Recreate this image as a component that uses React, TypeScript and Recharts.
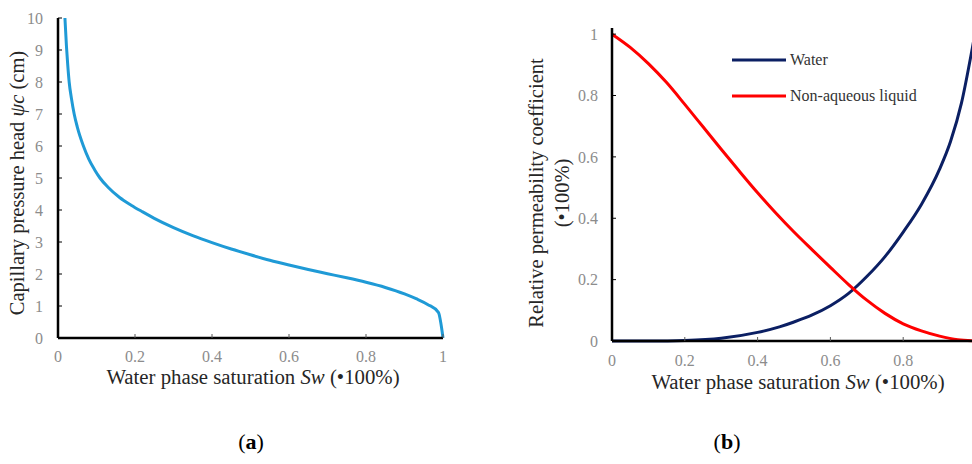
import React from 'react';
import { LineChart, Line, XAxis, YAxis, Legend } from 'recharts';

// ---------- data ----------
const swTicks = [0, 0.2, 0.4, 0.6, 0.8, 1];
const swTicksRight = [0, 0.2, 0.4, 0.6, 0.8];
const headTicks = [0, 1, 2, 3, 4, 5, 6, 7, 8, 9, 10];
const krTicks = [0, 0.2, 0.4, 0.6, 0.8, 1];

// (a) capillary pressure head vs water saturation
const capSw = [0.018, 0.022, 0.025, 0.029, 0.035, 0.042, 0.05, 0.066, 0.08, 0.095, 0.109, 0.13, 0.16, 0.19, 0.22, 0.25, 0.3, 0.35, 0.4, 0.45, 0.5, 0.55, 0.6, 0.65, 0.7, 0.75, 0.8, 0.85, 0.9, 0.93, 0.96, 0.988, 1.0];
const capHead = [10, 9.11, 8.58, 8.0, 7.48, 7.0, 6.6, 6.0, 5.59, 5.26, 5.0, 4.71, 4.39, 4.15, 3.94, 3.74, 3.45, 3.2, 2.98, 2.78, 2.6, 2.43, 2.28, 2.14, 2.01, 1.88, 1.74, 1.58, 1.38, 1.23, 1.05, 0.8, 0];

// (b) relative permeability
const waterSw = [0, 0.1, 0.2, 0.3, 0.4, 0.46, 0.5, 0.55, 0.6, 0.65, 0.7, 0.75, 0.8, 0.85, 0.9, 0.93, 0.96, 0.99, 1.0];
const waterKr = [0, 0.0002, 0.002, 0.009, 0.028, 0.046, 0.062, 0.085, 0.115, 0.155, 0.21, 0.275, 0.355, 0.445, 0.56, 0.65, 0.775, 0.955, 1.02];
const naplSw = [0, 0.05, 0.1, 0.15, 0.2, 0.25, 0.3, 0.35, 0.4, 0.45, 0.5, 0.55, 0.6, 0.65, 0.7, 0.75, 0.8, 0.85, 0.9, 0.95, 1.0];
const naplKr = [1, 0.957, 0.904, 0.842, 0.771, 0.698, 0.625, 0.553, 0.483, 0.417, 0.355, 0.297, 0.24, 0.184, 0.133, 0.09, 0.056, 0.033, 0.016, 0.004, 0];

const legendOrder = ['Water', 'Non-aqueous liquid'];

const capData = capSw.map((x, i) => ({ x, y: capHead[i] }));
const waterData = waterSw.map((x, i) => ({ x, y: waterKr[i] }));
const naplData = naplSw.map((x, i) => ({ x, y: naplKr[i] }));

const SERIF = "'Liberation Serif', 'Times New Roman', serif";
const TICK = { fill: '#8c8c8c', fontSize: 16, fontFamily: SERIF };
const TITLE_COLOR = '#262626';

const LegendBox = (props: any) => {
  const payload = [...(props.payload || [])].sort(
    (a: any, b: any) => legendOrder.indexOf(a.value) - legendOrder.indexOf(b.value)
  );
  return (
    <div style={{ fontFamily: SERIF, fontSize: 16, color: '#333' }}>
      {payload.map((p: any, i: number) => (
        <div key={i} style={{ display: 'flex', alignItems: 'center', height: 36 }}>
          <svg width={56} height={6} style={{ marginRight: 2 }}>
            <line x1={0} y1={3} x2={54} y2={3} stroke={p.color} strokeWidth={3} />
          </svg>
          <span>{p.value}</span>
        </div>
      ))}
    </div>
  );
};

export default function App() {
  return (
    <div style={{ position: 'fixed', left: 0, top: 0, width: 972, height: 464, overflow: 'hidden', background: '#fff' }}>
      <div style={{ position: 'absolute', left: 0, top: 0 }}>
        <LineChart width={480} height={400} data={capData} margin={{ top: 18, right: 37, bottom: 0, left: 0 }}>
          <XAxis
            type="number"
            dataKey="x"
            domain={[0, 1]}
            ticks={swTicks}
            interval={0}
            height={62}
            axisLine={{ stroke: '#000', strokeWidth: 2.5 }}
            tickLine={{ stroke: '#595959' }}
            tickSize={-4}
            tickMargin={17}
            tick={TICK}
          />
          <YAxis
            type="number"
            dataKey="y"
            domain={[0, 10]}
            ticks={headTicks}
            interval={0}
            width={58}
            axisLine={{ stroke: '#000', strokeWidth: 2.5 }}
            tickLine={{ stroke: '#000' }}
            tickSize={-4}
            tickMargin={19}
            tick={TICK}
          />
          <Line type="monotone" dataKey="y" stroke="#1f9ad6" strokeWidth={3} dot={false} isAnimationActive={false} />
        </LineChart>
      </div>

      <div style={{ position: 'absolute', left: 500, top: 0 }}>
        <LineChart width={500} height={400} margin={{ top: 28, right: 24, bottom: 0, left: 0 }}>
          <XAxis
            type="number"
            dataKey="x"
            domain={[0, 1]}
            ticks={swTicksRight}
            interval={0}
            height={59}
            axisLine={{ stroke: '#000', strokeWidth: 2.5 }}
            tickLine={{ stroke: '#595959' }}
            tickSize={-4}
            tickMargin={18}
            tick={TICK}
            allowDuplicatedCategory={false}
          />
          <YAxis
            type="number"
            dataKey="y"
            domain={[0, 1]}
            ticks={krTicks}
            interval={0}
            width={112}
            axisLine={{ stroke: '#000', strokeWidth: 2.5 }}
            tickLine={{ stroke: '#000' }}
            tickSize={-4}
            tickMargin={18}
            tick={TICK}
          />
          <Legend
            layout="vertical"
            align="center"
            verticalAlign="middle"
            content={<LegendBox />}
            wrapperStyle={{ position: 'absolute', left: 232, top: 42, width: 'auto' }}
          />
          <Line data={waterData} type="monotone" dataKey="y" name="Water" stroke="#0b1f63" strokeWidth={3} dot={false} isAnimationActive={false} />
          <Line data={naplData} type="monotone" dataKey="y" name="Non-aqueous liquid" stroke="#ff0000" strokeWidth={3} dot={false} isAnimationActive={false} />
        </LineChart>
      </div>

      <svg width={972} height={464} style={{ position: 'absolute', left: 0, top: 0, pointerEvents: 'none' }} fontFamily={SERIF}>
        <text x={253} y={384} textAnchor="middle" fontSize={20.8} fill={TITLE_COLOR}>
          Water phase saturation <tspan fontStyle="italic">Sw</tspan> (•100%)
        </text>
        <text transform="translate(24,183) rotate(-90)" textAnchor="middle" fontSize={20.5} fill={TITLE_COLOR}>
          Capillary pressure head <tspan fontStyle="italic">ψc</tspan> (cm)
        </text>
        <text x={798} y={389} textAnchor="middle" fontSize={20.8} fill={TITLE_COLOR}>
          Water phase saturation <tspan fontStyle="italic">Sw</tspan> (•100%)
        </text>
        <text transform="translate(543,193) rotate(-90)" textAnchor="middle" fontSize={20.5} fill={TITLE_COLOR}>
          Relative permeability coefficient
        </text>
        <text transform="translate(569,193) rotate(-90)" textAnchor="middle" fontSize={20.5} fill={TITLE_COLOR}>
          (•100%)
        </text>
        <text x={251} y={449} textAnchor="middle" fontSize={22} fill="#000">
          (<tspan fontWeight="bold">a</tspan>)
        </text>
        <text x={727} y={449} textAnchor="middle" fontSize={22} fill="#000">
          (<tspan fontWeight="bold">b</tspan>)
        </text>
      </svg>
    </div>
  );
}
